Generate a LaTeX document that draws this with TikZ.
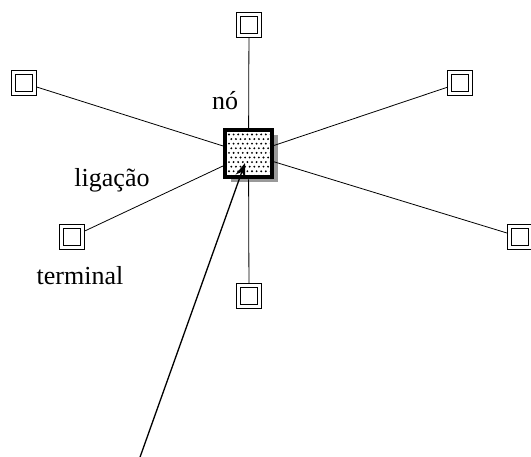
\documentclass[tikz,border=0pt]{standalone}
\usepackage{fontspec}
\setmainfont{Liberation Serif}
\usetikzlibrary{shadows,arrows.meta}

\tikzset{
    terminal/.style={draw, line width=1.1pt, minimum size=25pt, inner sep=0pt,
        path picture={\draw[line width=1.1pt] ([shift={(4pt,4pt)}]path picture bounding box.south west)
            rectangle ([shift={(-4pt,-4pt)}]path picture bounding box.north east);}},
    hub/.style={draw, line width=4pt, minimum size=47pt, inner sep=0pt, fill=white,
        drop shadow={shadow xshift=6pt, shadow yshift=-5pt, fill=black!40, opacity=1}},
    lbl/.style={font=\fontsize{26pt}{30pt}\selectfont, anchor=base, inner sep=0pt}
}

\begin{document}
\begin{tikzpicture}[x=1pt,y=-1pt]
        \useasboundingbox (0,0) rectangle (531,457);

        \node[hub] (hub) at (248.5,154) {};
        % dotted fill of the node
        \begin{scope}
            \clip (227.5,132.5) rectangle (269.5,175.5);
            \foreach \i in {0,...,9}
                \foreach \j in {0,...,9}
                    \fill ({229+\i*4.6+mod(\j,2)*2.3},{134.5+\j*4.6}) circle (1.05);
        \end{scope}

        \node[terminal] (top) at (249,25) {};
        \node[terminal] (bottom) at (249,296) {};
        \node[terminal] (lefttop) at (24,83) {};
        \node[terminal] (leftbot) at (72,237) {};
        \node[terminal] (righttop) at (460,83) {};
        \node[terminal] (rightbot) at (520,237) {};

        \foreach \t in {top,bottom,lefttop,leftbot,righttop,rightbot}
            \draw[line width=0.8pt] (\t) -- (hub);

        \node[lbl] (no) at (225,110) {nó};
        \node[lbl] (lig) at (112,187) {ligação};
        \node[lbl] (term) at (80,285) {terminal};

        \coordinate (src) at (139,460);
        \coordinate (tip) at (245,163);
        \draw[line width=1.3pt, -{Stealth[length=14pt,width=10pt]}] (src) -- (tip);
    \end{tikzpicture}
\end{document}
